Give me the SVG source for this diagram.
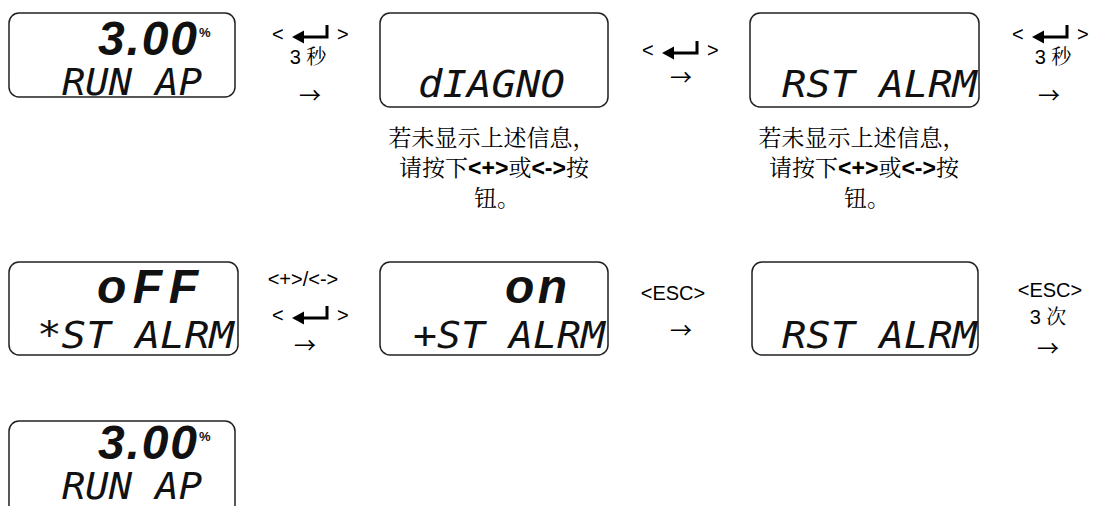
<svg xmlns="http://www.w3.org/2000/svg" width="1094" height="506" viewBox="0 0 1094 506">
<style>
.box{fill:#fff;stroke:#231f20;stroke-width:1.5}
.lcd{font-family:"DejaVu Sans Mono","Liberation Mono",monospace;font-style:italic;font-size:37px;fill:#111}
.big{font-family:"Liberation Sans",Arial,sans-serif;font-weight:bold;font-style:italic;font-size:48px;fill:#111}
.pct{font-family:"Liberation Sans",Arial,sans-serif;font-weight:bold;font-size:13px;fill:#111}
.lbl{font-family:"Liberation Sans",Arial,sans-serif;font-size:20px;fill:#000}
.cjk{font-family:"Noto Serif CJK SC","Noto Sans CJK SC",serif;fill:#000}
.arr{font-family:"Noto Sans CJK SC",sans-serif;font-size:22px;fill:#000}
.note{font-family:"Noto Serif CJK SC","Noto Sans CJK SC",serif;font-size:23px;fill:#000}
.nb{font-family:"Liberation Sans",Arial,sans-serif;font-weight:bold}
</style>
<defs>
<symbol id="enter" viewBox="0 0 37 20" overflow="visible">
<path d="M35 0V12H9" fill="none" stroke="#000" stroke-width="3"/>
<polygon points="0,12 12,5.5 12,18.5" fill="#000"/>
</symbol>
</defs>

<g id="node-run1">
<rect class="box" x="9" y="13" width="226" height="84" rx="10"/>
<text class="big" x="98" y="55" textLength="99">3.00</text>
<text class="pct" x="199" y="37">%</text>
<text class="lcd" x="62" y="95" textLength="140" lengthAdjust="spacingAndGlyphs">RUN AP</text>
</g>

<g id="node-diagno">
<rect class="box" x="380" y="13" width="228" height="94" rx="10"/>
<text class="lcd" x="418" y="97" textLength="147" lengthAdjust="spacingAndGlyphs">dIAGNO</text>
</g>

<g id="node-rst1">
<rect class="box" x="750" y="13" width="229" height="94" rx="10"/>
<text class="lcd" x="782" y="97" textLength="195" lengthAdjust="spacingAndGlyphs">RST ALRM</text>
</g>

<g id="note1">
<text class="note" text-anchor="middle"><tspan x="492" y="146">若未显示上述信息，</tspan><tspan x="494" y="176">请按下<tspan class="nb">&lt;+&gt;</tspan>或<tspan class="nb">&lt;-&gt;</tspan>按</tspan><tspan x="497" y="206">钮。</tspan></text>
</g>
<g id="note2">
<text class="note" text-anchor="middle"><tspan x="862" y="146">若未显示上述信息，</tspan><tspan x="864" y="176">请按下<tspan class="nb">&lt;+&gt;</tspan>或<tspan class="nb">&lt;-&gt;</tspan>按</tspan><tspan x="867" y="206">钮。</tspan></text>
</g>

<g id="node-off">
<rect class="box" x="9" y="262" width="229" height="93" rx="10"/>
<text class="big" x="97" y="303" textLength="101">oFF</text>
<text class="lcd" x="37" y="348" textLength="197" lengthAdjust="spacingAndGlyphs">*ST ALRM</text>
</g>

<g id="node-on">
<rect class="box" x="380" y="262" width="228" height="93" rx="10"/>
<text class="big" x="505" y="303" textLength="62">on</text>
<text class="lcd" x="413" y="348" textLength="192" lengthAdjust="spacingAndGlyphs">+ST ALRM</text>
</g>

<g id="node-rst2">
<rect class="box" x="752" y="262" width="226" height="93" rx="10"/>
<text class="lcd" x="782" y="348" textLength="195" lengthAdjust="spacingAndGlyphs">RST ALRM</text>
</g>

<g id="node-run2">
<rect class="box" x="9" y="421" width="226" height="100" rx="10"/>
<text class="big" x="98" y="459" textLength="99">3.00</text>
<text class="pct" x="199" y="441">%</text>
<text class="lcd" x="62" y="499" textLength="140" lengthAdjust="spacingAndGlyphs">RUN AP</text>
</g>

<g id="connectors">
<g id="c1">
<text class="lbl" x="272" y="41">&lt;</text>
<use href="#enter" x="292" y="25" width="37" height="20"/>
<text class="lbl" x="337" y="41">&gt;</text>
<text class="lbl" x="308" y="64" text-anchor="middle">3 <tspan class="cjk">秒</tspan></text>
<text class="arr" x="310" y="103" text-anchor="middle">→</text>
</g>
<g id="c2">
<text class="lbl" x="642" y="57">&lt;</text>
<use href="#enter" x="662" y="41" width="37" height="20"/>
<text class="lbl" x="707" y="57">&gt;</text>
<text class="arr" x="681" y="85" text-anchor="middle">→</text>
</g>
<g id="c3">
<text class="lbl" x="1012" y="41">&lt;</text>
<use href="#enter" x="1032" y="25" width="37" height="20"/>
<text class="lbl" x="1077" y="41">&gt;</text>
<text class="lbl" x="1053" y="64" text-anchor="middle">3 <tspan class="cjk">秒</tspan></text>
<text class="arr" x="1049" y="103" text-anchor="middle">→</text>
</g>
<g id="c4">
<text class="lbl" x="303" y="286" text-anchor="middle">&lt;+&gt;/&lt;-&gt;</text>
<text class="lbl" x="272" y="322">&lt;</text>
<use href="#enter" x="292" y="306" width="37" height="20"/>
<text class="lbl" x="337" y="322">&gt;</text>
<text class="arr" x="305" y="353" text-anchor="middle">→</text>
</g>
<g id="c5">
<text class="lbl" x="673" y="300" text-anchor="middle">&lt;ESC&gt;</text>
<text class="arr" x="681" y="338" text-anchor="middle">→</text>
</g>
<g id="c6">
<text class="lbl" x="1050" y="297" text-anchor="middle">&lt;ESC&gt;</text>
<text class="lbl" x="1048" y="324" text-anchor="middle">3 <tspan class="cjk">次</tspan></text>
<text class="arr" x="1048" y="356" text-anchor="middle">→</text>
</g>
</g>
</svg>
